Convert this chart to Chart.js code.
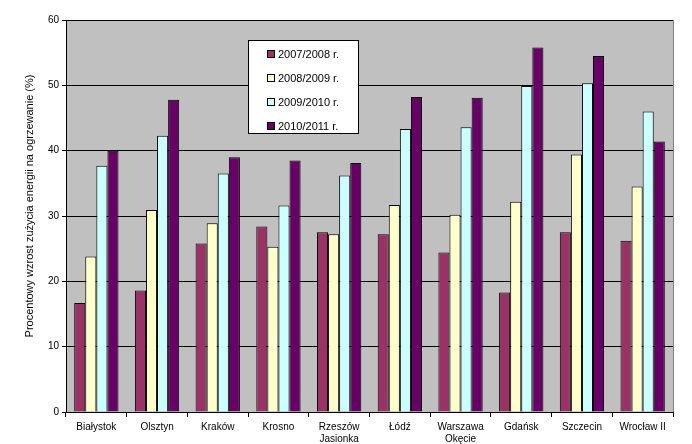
<!DOCTYPE html>
<html>
<head>
<meta charset="utf-8">
<script src="https://cdn.jsdelivr.net/npm/chart.js@4/dist/chart.umd.min.js"></script>
<style>
    html, body { margin: 0; padding: 0; background: #ffffff; }
    #wrap { width: 692px; height: 444px; }
</style>
</head>
<body>
<div id="wrap"><canvas id="heatChart" width="692" height="444"></canvas></div>
<script>
// Stations (categories)
const stations = [
    'Białystok', 'Olsztyn', 'Kraków', 'Krosno', ['Rzeszów', 'Jasionka'],
    'Łódź', ['Warszawa', 'Okęcie'], 'Gdańsk', 'Szczecin', 'Wrocław II'
];

// Season labels
const seasons = ['2007/2008 r.', '2008/2009 r.', '2009/2010 r.', '2010/2011 r.'];

// Percent growth per season
const season0708 = [16.7, 18.6, 25.8, 28.4, 27.5, 27.2, 24.4, 18.3, 27.5, 26.2];
const season0809 = [23.8, 30.9, 28.9, 25.3, 27.2, 31.7, 30.2, 32.2, 39.4, 34.5];
const season0910 = [37.7, 42.3, 36.5, 31.6, 36.2, 43.3, 43.6, 49.9, 50.3, 46.0];
const season1011 = [40.0, 47.8, 39.0, 38.5, 38.1, 48.2, 48.1, 55.8, 54.5, 41.4];

const yTicks = [0, 10, 20, 30, 40, 50, 60];
const yTitle = 'Procentowy wzrost zużycia energii na ogrzewanie (%)';

const seasonColors = ['#993366', '#ffffcc', '#ccffff', '#660066'];
const seriesData = [season0708, season0809, season0910, season1011];

const FONT = 'Arial, "Liberation Sans", sans-serif';

// Gray plot background + right frame
const plotBackground = {
    id: 'plotBackground',
    beforeDraw(chart) {
        const { ctx, chartArea: a } = chart;
        ctx.save();
        ctx.fillStyle = '#c0c0c0';
        ctx.fillRect(a.left, a.top, a.right - a.left, a.bottom - a.top);
        ctx.strokeStyle = '#808080';
        ctx.lineWidth = 1;
        ctx.beginPath();
        ctx.moveTo(a.right + 0.5, a.top);
        ctx.lineTo(a.right + 0.5, a.bottom);
        ctx.stroke();
        ctx.restore();
    }
};

// Rotated y title, sits a bit above the plot's middle like the original
const sideTitle = {
    id: 'sideTitle',
    afterDraw(chart) {
        const { ctx } = chart;
        ctx.save();
        ctx.translate(30, 206);
        ctx.rotate(-Math.PI / 2);
        ctx.font = '11px ' + FONT;
        ctx.fillStyle = '#000000';
        ctx.textAlign = 'center';
        ctx.textBaseline = 'middle';
        ctx.fillText(yTitle, 0, 0);
        ctx.restore();
    }
};

// Legend box drawn inside the plot
const boxLegend = {
    id: 'boxLegend',
    afterDraw(chart) {
        const { ctx } = chart;
        const x = 248, y = 40, w = 110, h = 93;
        ctx.save();
        ctx.fillStyle = '#ffffff';
        ctx.fillRect(x, y, w, h);
        ctx.strokeStyle = '#000000';
        ctx.lineWidth = 1;
        ctx.strokeRect(x + 0.5, y + 0.5, w, h);
        ctx.font = '11px ' + FONT;
        ctx.textBaseline = 'middle';
        chart.data.datasets.forEach((ds, i) => {
            const cy = y + 14 + i * 24;
            ctx.fillStyle = ds.backgroundColor;
            ctx.fillRect(x + 19, cy - 4, 8, 8);
            ctx.strokeStyle = '#000000';
            ctx.strokeRect(x + 19.5, cy - 3.5, 7, 7);
            ctx.fillStyle = '#000000';
            ctx.fillText(ds.label, x + 30, cy + 1);
        });
        ctx.restore();
    }
};

new Chart(document.getElementById('heatChart'), {
    type: 'bar',
    data: {
        labels: stations,
        datasets: seasons.map((s, i) => ({
            label: s,
            data: seriesData[i],
            backgroundColor: seasonColors[i],
            borderColor: '#000000',
            borderWidth: 1,
            categoryPercentage: 0.73,
            barPercentage: 1.0
        }))
    },
    options: {
        responsive: false,
        animation: false,
        layout: { padding: { top: 20, right: 19, left: 0, bottom: 0 } },
        plugins: {
            legend: { display: false },
            tooltip: { enabled: false }
        },
        scales: {
            x: {
                grid: {
                    offset: true,
                    drawOnChartArea: false,
                    drawTicks: true,
                    tickLength: 5,
                    color: '#000000'
                },
                border: { color: '#000000', width: 1 },
                ticks: {
                    color: '#000000',
                    font: { family: FONT, size: 10 },
                    maxRotation: 0,
                    autoSkip: false,
                    padding: 4
                },
                afterFit(scale) { scale.height = 32; }
            },
            y: {
                min: 0,
                max: 60,
                afterBuildTicks(scale) { scale.ticks = yTicks.map(v => ({ value: v })); },
                grid: {
                    color: '#000000',
                    drawTicks: true,
                    tickLength: 4
                },
                border: { color: '#000000', width: 1 },
                ticks: {
                    color: '#000000',
                    font: { family: FONT, size: 10 },
                    padding: 3
                },
                afterFit(scale) { scale.width = 66; }
            }
        }
    },
    plugins: [plotBackground, sideTitle, boxLegend]
});
</script>
</body>
</html>
